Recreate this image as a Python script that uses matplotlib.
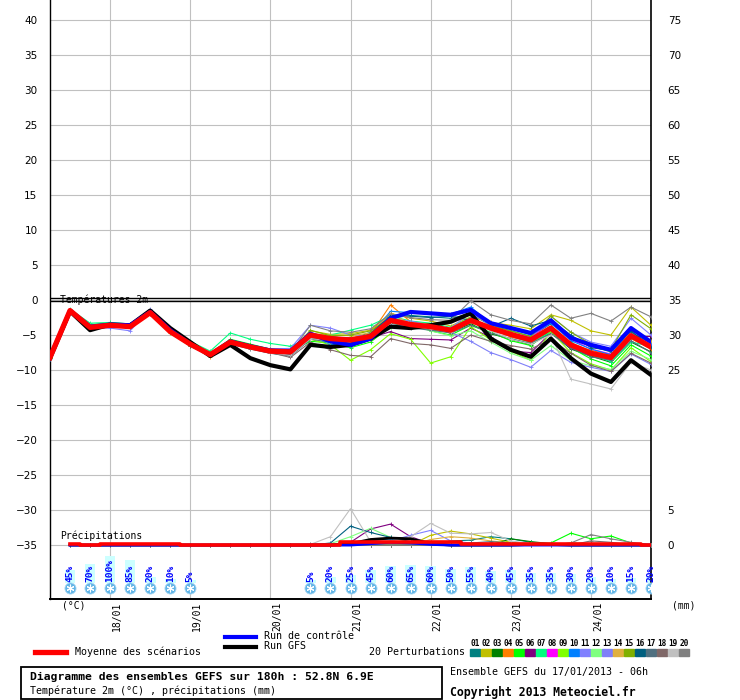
import matplotlib
matplotlib.use('Agg')
import matplotlib.pyplot as plt
from matplotlib.patches import Rectangle
from matplotlib.lines import Line2D
from matplotlib.transforms import ScaledTranslation

# forecast hours (run 17/01/2013 06h), 6h steps
hours = [0, 6, 12, 18, 24, 30, 36, 42, 48, 54, 60, 66, 72, 78, 84, 90,
         96, 102, 108, 114, 120, 126, 132, 138, 144, 150, 156, 162, 168, 174, 180]

day_hours = [18, 42, 66, 90, 114, 138, 162]
day_labels = ['18/01', '19/01', '20/01', '21/01', '22/01', '23/01', '24/01']

# temperature 2m (C)
t2m_mean = [-8.2, -1.5, -3.9, -3.6, -3.8, -1.8, -4.5, -6.3, -7.8, -6.0, -6.7, -7.3, -7.4, -5.0, -5.5, -5.7,
            -5.2, -2.9, -3.5, -3.8, -4.3, -2.9, -4.0, -4.9, -5.7, -4.0, -6.4, -7.6, -8.2, -5.1, -6.7]
t2m_ctrl = [-8.2, -1.5, -3.8, -3.5, -3.6, -1.7, -4.3, -6.3, -7.8, -5.9, -6.6, -7.2, -7.3, -4.8, -5.9, -6.4,
            -5.5, -2.6, -1.7, -1.9, -2.1, -1.4, -3.3, -4.0, -4.7, -2.9, -5.4, -6.4, -7.1, -4.0, -6.0]
t2m_gfs = [-8.3, -1.6, -4.3, -3.5, -3.6, -1.5, -4.0, -6.0, -8.0, -6.4, -8.3, -9.3, -9.9, -6.4, -6.7, -6.4,
           -5.5, -3.8, -4.0, -3.6, -3.1, -1.9, -5.5, -7.1, -8.1, -5.5, -8.3, -10.5, -11.7, -8.6, -10.7]

t2m_p01 = [-8.0, -1.4, -3.7, -3.4, -3.6, -1.7, -4.6, -6.4, -7.9, -6.2, -6.9, -7.6, -7.8, -5.3, -5.2, -5.6,
           -4.6, -2.6, -2.2, -2.4, -2.6, -2.0, -3.6, -4.4, -5.2, -3.4, -5.2, -6.6, -7.4, -4.6, -6.2]
t2m_p02 = [-8.3, -1.6, -3.8, -3.5, -3.5, -1.6, -4.3, -6.0, -7.6, -5.8, -6.5, -7.0, -7.1, -4.4, -4.9, -4.8,
           -4.3, -1.9, -2.6, -3.0, -3.7, -2.4, -3.2, -3.6, -4.1, -2.1, -2.9, -4.4, -5.0, -1.0, -3.6]
t2m_p03 = [-8.2, -1.5, -4.2, -3.3, -3.9, -1.9, -4.4, -6.5, -7.9, -6.2, -6.9, -7.5, -7.9, -5.2, -6.2, -6.0,
           -5.0, -3.3, -3.8, -4.2, -4.6, -3.4, -4.8, -5.6, -6.4, -4.6, -7.0, -8.0, -8.9, -6.0, -7.4]
t2m_p04 = [-8.1, -1.5, -3.6, -3.9, -3.9, -1.7, -4.2, -6.4, -8.1, -5.9, -6.8, -7.1, -7.2, -5.1, -5.8, -5.4,
           -4.9, -0.7, -3.1, -3.4, -4.8, -3.0, -3.8, -5.3, -5.9, -3.8, -6.2, -7.2, -7.8, -5.5, -7.0]
t2m_p05 = [-8.3, -1.4, -3.5, -3.3, -3.7, -1.6, -4.5, -6.2, -7.6, -5.6, -6.3, -7.0, -7.3, -5.9, -6.1, -6.8,
           -6.0, -3.8, -3.2, -4.4, -5.0, -3.6, -4.6, -5.8, -6.5, -4.3, -6.8, -8.4, -9.4, -6.4, -8.0]
t2m_p06 = [-8.2, -1.6, -4.1, -3.8, -3.9, -2.0, -4.6, -6.3, -7.6, -6.1, -6.8, -7.2, -7.4, -4.9, -5.3, -5.4,
           -5.4, -4.5, -5.5, -5.6, -5.7, -4.0, -5.3, -7.3, -7.5, -4.7, -6.9, -7.9, -8.5, -5.2, -5.2]
t2m_p07 = [-8.1, -1.3, -3.3, -3.2, -3.4, -1.6, -4.0, -5.9, -7.3, -4.7, -5.6, -6.2, -6.6, -5.3, -5.0, -4.3,
           -3.6, -2.3, -3.0, -3.3, -3.9, -2.5, -4.3, -5.1, -6.1, -4.6, -6.0, -7.8, -8.8, -6.0, -6.6]
t2m_p08 = [-8.2, -1.5, -3.9, -3.7, -3.8, -1.8, -4.5, -6.3, -7.7, -6.0, -6.6, -7.3, -7.5, -5.1, -5.6, -6.6,
           -5.5, -3.2, -3.5, -3.9, -4.4, -2.6, -4.1, -4.8, -5.3, -3.2, -5.6, -7.0, -7.7, -4.9, -6.3]
t2m_p09 = [-8.3, -1.6, -4.0, -3.4, -3.7, -1.8, -4.7, -6.6, -7.8, -5.9, -6.6, -7.2, -7.6, -5.6, -6.4, -8.6,
           -7.1, -4.8, -5.6, -9.0, -8.1, -3.8, -5.7, -7.3, -8.6, -4.5, -7.5, -9.1, -10.0, -6.8, -8.8]
t2m_p10 = [-8.2, -1.5, -3.8, -3.6, -3.7, -1.7, -4.4, -6.2, -7.8, -6.1, -6.7, -7.4, -7.6, -5.2, -6.3, -6.6,
           -5.0, -1.6, -1.8, -1.9, -2.0, -1.0, -3.3, -4.1, -5.0, -3.3, -5.8, -7.0, -7.8, -4.2, -6.1]
t2m_p11 = [-8.4, -1.7, -4.0, -4.0, -4.4, -1.3, -4.4, -6.2, -7.9, -5.8, -6.6, -7.0, -6.9, -3.6, -4.0, -5.0,
           -5.1, -2.7, -3.0, -3.6, -4.0, -1.8, -3.6, -4.8, -5.4, -2.3, -4.6, -6.0, -6.6, -2.6, -5.0]
t2m_p12 = [-8.1, -1.4, -3.6, -3.5, -3.6, -1.9, -4.6, -6.4, -7.7, -6.1, -6.8, -7.3, -7.5, -5.4, -6.1, -6.0,
           -5.3, -3.2, -3.6, -4.4, -5.1, -4.4, -6.0, -7.6, -8.6, -6.5, -8.6, -9.4, -9.9, -7.3, -8.5]
t2m_p13 = [-8.2, -1.5, -3.9, -3.7, -4.0, -1.8, -4.3, -6.1, -7.7, -6.3, -6.9, -7.6, -7.7, -5.0, -5.4, -5.6,
           -5.3, -3.6, -3.6, -4.0, -4.6, -5.9, -7.5, -8.5, -9.6, -7.2, -8.9, -9.6, -10.2, -7.7, -9.2]
t2m_p14 = [-8.2, -1.6, -3.7, -3.4, -3.5, -1.9, -4.3, -6.1, -8.0, -6.2, -6.9, -7.4, -7.3, -4.8, -5.0, -5.1,
           -4.7, -1.9, -3.4, -3.5, -4.2, -3.2, -4.2, -4.6, -5.6, -4.2, -6.6, -7.7, -8.4, -4.3, -5.9]
t2m_p15 = [-8.3, -1.4, -3.8, -3.5, -3.6, -1.8, -4.5, -6.2, -7.8, -6.0, -6.6, -7.4, -7.7, -4.3, -5.1, -5.0,
           -4.4, -2.5, -3.3, -3.6, -4.1, -2.8, -3.7, -4.4, -5.2, -2.3, -4.6, -6.3, -7.1, -2.1, -4.1]
t2m_p16 = [-8.2, -1.6, -3.9, -3.6, -3.8, -1.7, -4.5, -6.4, -7.9, -6.2, -6.9, -7.5, -7.8, -5.5, -5.8, -5.9,
           -4.8, -2.2, -2.3, -2.5, -2.3, -2.9, -3.8, -2.6, -3.7, -2.9, -5.0, -6.8, -7.2, -4.4, -6.7]
t2m_p17 = [-8.1, -1.5, -4.0, -3.7, -3.9, -1.9, -4.6, -6.5, -7.9, -6.3, -7.0, -7.6, -8.0, -5.6, -6.0, -6.1,
           -5.6, -3.6, -4.0, -4.3, -4.7, -3.6, -4.7, -5.5, -6.2, -4.8, -6.8, -8.1, -8.6, -5.8, -7.5]
t2m_p18 = [-8.2, -1.5, -3.9, -3.6, -3.8, -1.8, -4.5, -6.3, -7.9, -6.1, -6.9, -7.5, -8.2, -6.0, -7.1, -7.9,
           -8.1, -5.5, -6.2, -6.4, -6.9, -5.0, -5.9, -6.5, -7.0, -5.6, -7.6, -9.3, -10.2, -7.6, -9.0]
t2m_p19 = [-8.2, -1.5, -3.9, -3.6, -3.8, -1.8, -4.5, -6.3, -7.8, -6.1, -6.8, -7.5, -7.9, -5.5, -5.8, -6.0,
           -5.1, -3.1, -3.8, -4.1, -4.5, -2.9, -4.4, -5.6, -6.3, -5.0, -11.3, -12.0, -12.7, -8.9, -10.0]
t2m_p20 = [-8.2, -1.5, -3.9, -3.6, -3.8, -1.8, -4.5, -6.3, -7.8, -6.0, -6.7, -7.4, -7.5, -3.6, -4.4, -4.6,
           -4.1, -2.0, -2.5, -2.8, -2.9, -0.1, -2.1, -2.9, -3.4, -0.7, -2.6, -1.9, -3.0, -1.0, -2.4]

# precipitation per 6h (mm)
prec_mean = [0, 0.15, 0.0, 0.15, 0.15, 0.15, 0.15, 0.0, 0.0, 0.0, 0.0, 0.05, 0.05, 0.05, 0.05, 0.45,
             0.45, 0.45, 0.45, 0.45, 0.45, 0.2, 0.2, 0.2, 0.2, 0.2, 0.2, 0.2, 0.2, 0.2, 0.05]
prec_ctrl = [0, 0, 0, 0, 0, 0, 0, 0, 0, 0, 0, 0, 0, 0, 0, 0,
             0.2, 0.4, 0.3, 0.1, 0, 0, 0, 0, 0, 0, 0, 0, 0, 0, 0]
prec_gfs = [0, 0, 0, 0, 0, 0, 0, 0, 0, 0, 0, 0, 0, 0, 0, 0.2,
            0.8, 1.0, 0.9, 0.2, 0, 0, 0, 0, 0.1, 0.1, 0, 0, 0, 0, 0]

prec_p01 = [0, 0, 0, 0, 0, 0, 0, 0, 0, 0, 0, 0, 0, 0, 0, 0, 0, 0, 0, 0, 0.6, 0.7, 1.2, 0.9, 0.4, 0.2, 0, 0, 0, 0, 0]
prec_p02 = [0, 0, 0, 0, 0, 0, 0, 0, 0, 0, 0, 0, 0, 0, 0, 0, 0, 0, 0, 1.4, 2.0, 1.6, 1.0, 0.4, 0.2, 0, 0, 0, 0, 0, 0]
prec_p03 = [0, 0, 0, 0, 0, 0, 0, 0, 0, 0, 0, 0, 0, 0, 0, 0, 0.4, 0.5, 0, 0, 0, 0, 0, 0.9, 0.5, 0.2, 0, 0, 0, 0, 0]
prec_p04 = [0, 0, 0, 0, 0, 0, 0, 0, 0, 0, 0, 0, 0, 0, 0, 0.3, 0.2, 0, 0, 0, 0, 0, 0, 0, 0, 0, 0, 0, 0, 0, 0]
prec_p05 = [0, 0, 0, 0, 0, 0, 0, 0, 0, 0, 0, 0, 0, 0, 0, 0, 0, 0, 0, 0, 0, 0, 0, 0, 0, 0.3, 1.7, 0.9, 1.3, 0.3, 0]
prec_p06 = [0, 0, 0, 0, 0, 0, 0, 0, 0, 0, 0, 0, 0, 0, 0, 0.4, 2.3, 3.0, 1.2, 0.2, 0, 0, 0, 0, 0, 0, 0, 0, 0, 0, 0]
prec_p07 = [0, 0, 0, 0, 0, 0, 0, 0, 0, 0, 0, 0, 0, 0, 0, 0, 0, 0, 0, 0, 0, 0, 0, 0, 0.3, 0.2, 0, 0, 0, 0, 0]
prec_p08 = [0, 0, 0, 0, 0, 0, 0, 0, 0, 0, 0, 0, 0, 0, 0, 0.4, 0.5, 0.3, 0, 0, 0, 0, 0, 0, 0, 0, 0, 0, 0, 0, 0]
prec_p09 = [0, 0, 0, 0, 0, 0, 0, 0, 0, 0, 0, 0, 0, 0, 0.2, 0.3, 0, 0, 0, 0, 0, 0, 0, 0, 0, 0, 0, 0, 0, 0, 0]
prec_p10 = [0, 0, 0, 0, 0, 0, 0, 0, 0, 0, 0, 0, 0, 0, 0, 0, 0.6, 0.9, 0.8, 0.5, 0, 0, 0, 0, 0, 0, 0, 0, 0, 0, 0]
prec_p11 = [0, 0, 0, 0, 0, 0, 0, 0, 0, 0, 0, 0, 0, 0, 0, 0, 0, 0.6, 1.4, 2.1, 0.6, 0.3, 0, 0, 0, 0, 0, 0, 0, 0, 0]
prec_p12 = [0, 0, 0, 0, 0, 0, 0, 0, 0, 0, 0, 0, 0, 0, 0.2, 1.2, 2.4, 1.1, 0.4, 0, 0, 0, 0, 0, 0, 0, 0, 0, 0, 0, 0]
prec_p13 = [0, 0, 0, 0, 0, 0, 0, 0, 0, 0, 0, 0, 0, 0, 0, 0, 0, 0, 0.5, 0.4, 0, 0, 0, 0, 0, 0, 0, 0, 0, 0, 0]
prec_p14 = [0, 0, 0, 0, 0, 0, 0, 0, 0, 0, 0, 0, 0, 0, 0, 0, 0, 0, 0, 0.8, 1.2, 1.0, 0.6, 0.3, 0, 0, 0, 0, 0, 0, 0]
prec_p15 = [0, 0, 0, 0, 0, 0, 0, 0, 0, 0, 0, 0, 0, 0, 0, 0, 0, 0, 0, 0, 0, 0, 0, 0, 0, 0, 0.3, 0.2, 0, 0, 0]
prec_p16 = [0, 0, 0, 0, 0, 0, 0, 0, 0, 0, 0, 0, 0, 0, 0.3, 2.7, 1.8, 1.1, 0.5, 0.2, 0, 0, 0, 0, 0, 0, 0, 0, 0, 0, 0]
prec_p17 = [0, 0, 0, 0, 0, 0, 0, 0, 0, 0, 0, 0, 0, 0, 0, 0, 0, 0, 0, 0, 0, 0.3, 0.5, 0.3, 0, 0, 0, 0, 0, 0, 0]
prec_p18 = [0, 0, 0, 0, 0, 0, 0, 0, 0, 0, 0, 0, 0, 0, 0, 0, 0, 0, 0, 0, 0, 0, 0, 0, 0, 0, 0, 0.6, 0.4, 0, 0]
prec_p19 = [0, 0, 0, 0, 0, 0, 0, 0, 0, 0, 0, 0, 0, 0.1, 1.2, 5.2, 0.5, 0.6, 1.2, 3.1, 1.7, 1.6, 1.8, 0.6, 0.2, 0, 0, 0, 0, 0, 0]
prec_p20 = [0, 0, 0, 0, 0, 0, 0, 0, 0, 0, 0, 0, 0, 0.1, 0.2, 0, 0, 0, 0, 0, 0, 0, 0, 0, 0, 0, 0.3, 1.5, 0.9, 0.4, 0]

# snow probability (%)
snow_hours = [6, 12, 18, 24, 30, 36, 42,
              78, 84, 90, 96, 102, 108, 114, 120, 126, 132, 138, 144, 150, 156, 162, 168, 174, 180]
snow_pct = [45, 70, 100, 85, 20, 10, 5,
            5, 20, 25, 45, 60, 65, 60, 50, 55, 40, 45, 35, 35, 30, 20, 10, 15, 20]

pert_colors = ['#008080', '#c0c000', '#008000', '#ff8000', '#00ff00', '#800080', '#00ff80',
               '#ff00ff', '#80ff00', '#0080ff', '#8080ff', '#80ff80', '#8080f8', '#e0b040',
               '#80b000', '#006080', '#507080', '#806868', '#c0c0c0', '#808080']

t2m_pert = [t2m_p01, t2m_p02, t2m_p03, t2m_p04, t2m_p05, t2m_p06, t2m_p07, t2m_p08, t2m_p09, t2m_p10,
            t2m_p11, t2m_p12, t2m_p13, t2m_p14, t2m_p15, t2m_p16, t2m_p17, t2m_p18, t2m_p19, t2m_p20]
prec_pert = [prec_p01, prec_p02, prec_p03, prec_p04, prec_p05, prec_p06, prec_p07, prec_p08, prec_p09, prec_p10,
             prec_p11, prec_p12, prec_p13, prec_p14, prec_p15, prec_p16, prec_p17, prec_p18, prec_p19, prec_p20]

PREC_BASE = -35    # precipitation 0 mm sits on -35 of the temperature scale
MONO = 'DejaVu Sans Mono'
W, H = 740, 700


def fpos(x, y):
    """pixel position (from top left) -> figure fraction"""
    return x / W, 1 - y / H


def prec_y(vals):
    return [PREC_BASE + v for v in vals]


fig = plt.figure(figsize=(W / 100, H / 100), dpi=100)
ax = fig.add_axes([50 / W, 101 / H, 601 / W, 599 / H])
ax.set_xlim(0, 180)
ax.set_ylim(-42.7, 42.86)

ax.set_axisbelow(True)
ax.set_yticks(range(-35, 41, 5))
ax.set_xticks(day_hours)
ax.set_xticklabels(day_labels, rotation=90, family=MONO, fontsize=7)
ax.grid(color='#c0c0c0', lw=0.8)
ax.tick_params(axis='y', length=0, pad=9, labelsize=7.5)
ax.tick_params(axis='x', length=0, pad=2)
for lab in ax.get_xticklabels():
    lab.set_transform(lab.get_transform() + ScaledTranslation(7 / 100, 0, fig.dpi_scale_trans))
ax.spines['left'].set_linewidth(1.0)
ax.spines['right'].set_linewidth(1.2)
ax.spines['bottom'].set_linewidth(1.4)
ax.spines['top'].set_visible(False)

ax2 = ax.twinx()
ax2.set_ylim(ax.get_ylim())
rticks = [-35, -30] + list(range(-10, 41, 5))
ax2.set_yticks(rticks)
ax2.set_yticklabels([str(v - PREC_BASE) for v in rticks])
ax2.tick_params(axis='y', length=0, pad=12, labelsize=7.5)
for s in ['left', 'bottom', 'top', 'right']:
    ax2.spines[s].set_visible(False)

# separator between temperature and precipitation blocks
ax.axhline(0.25, color='black', lw=1.0, zorder=3)
ax.axhline(-0.12, color='black', lw=1.0, zorder=3)

# temperature
for c, vals in zip(pert_colors, t2m_pert):
    ax.plot(hours, vals, color=c, lw=0.8, marker='+', ms=3, mew=0.6, zorder=4)
ax.plot(hours, t2m_gfs, color='black', lw=3.0, zorder=5)
ax.plot(hours, t2m_ctrl, color='#0000ff', lw=3.0, zorder=6)
ax.plot(hours, t2m_mean, color='#ff0000', lw=3.8, zorder=7)

# precipitation
for c, vals in zip(pert_colors, prec_pert):
    ax.plot(hours[1:], prec_y(vals[1:]), color=c, lw=0.8, marker='+', ms=3, mew=0.6, zorder=4)
ax.plot(hours[1:], prec_y(prec_gfs[1:]), color='black', lw=2.0, zorder=5)
ax.plot(hours[1:], prec_y(prec_ctrl[1:]), color='#0000ff', lw=2.0, zorder=6)
ax.plot(hours[1:], prec_y(prec_mean[1:]), color='#ff0000', lw=2.6, drawstyle='steps-mid', zorder=7)

ax.text(3, 0, 'Températures 2m', family=MONO, fontsize=7, va='center', zorder=8)
ax.text(3, -33.6, 'Précipitations', family=MONO, fontsize=7, va='center', zorder=8)

# snow probability row
ax.bar(snow_hours, [3.71 * p / 100 + 0.2 for p in snow_pct], width=3.2, bottom=-40.43,
       color='#ccffff', zorder=2)
for h, p in zip(snow_hours, snow_pct):
    ax.text(h, -40.3, '%d%%' % p, rotation=90, ha='center', va='bottom', color='#0000ff',
            family=MONO, fontsize=6.8, weight='bold', zorder=8)
ax.plot(snow_hours, [-41.15] * len(snow_hours), 'o', ms=8, color='#60b4e6', mec='#a8d8f4',
        mew=0.6, zorder=8)
ax.plot(snow_hours, [-41.15] * len(snow_hours), marker=(6, 2, 0), ls='none', ms=5.5,
        color='white', mew=0.8, zorder=9)

# labels below the chart
fig.text(*fpos(62, 606), '(°C)', family=MONO, fontsize=7, va='center')
fig.text(*fpos(672, 606), '(mm)', family=MONO, fontsize=7, va='center')

fig.add_artist(Line2D([35 / W, 66 / W], [1 - 652 / H] * 2, color='#ff0000', lw=3.8))
fig.text(*fpos(75, 652), 'Moyenne des scénarios', family=MONO, fontsize=7.2, va='center')
fig.add_artist(Line2D([225 / W, 256 / W], [1 - 637 / H] * 2, color='#0000ff', lw=3.0))
fig.text(*fpos(264, 636), 'Run de contrôle', family=MONO, fontsize=7.2, va='center')
fig.add_artist(Line2D([225 / W, 256 / W], [1 - 647 / H] * 2, color='black', lw=3.0))
fig.text(*fpos(264, 646), 'Run GFS', family=MONO, fontsize=7.2, va='center')
fig.text(*fpos(369, 652), '20 Perturbations', family=MONO, fontsize=7.2, va='center')

for k, c in enumerate(pert_colors):
    x0 = 470 + 11 * k
    fig.add_artist(Rectangle(fpos(x0, 656), 10 / W, 7 / H, color=c, transform=fig.transFigure))
    fig.text(*fpos(x0 + 5, 643), '%02d' % (k + 1), family=MONO, fontsize=5.6, weight='bold',
             ha='center', va='center')

fig.add_artist(Rectangle(fpos(21, 699), 421 / W, 32 / H, fill=False, ec='black', lw=1.3,
                         transform=fig.transFigure))
fig.text(*fpos(30, 677), 'Diagramme des ensembles GEFS sur 180h : 52.8N 6.9E', family=MONO,
         fontsize=8.2, weight='bold', va='center')
fig.text(*fpos(30, 691), 'Température 2m (°C) , précipitations (mm)', family=MONO,
         fontsize=7.2, va='center')
fig.text(*fpos(450, 672), 'Ensemble GEFS du 17/01/2013 - 06h', family=MONO, fontsize=7.2,
         va='center')
fig.text(*fpos(450, 692), 'Copyright 2013 Meteociel.fr', family=MONO, fontsize=8.3,
         weight='bold', va='center')

fig.savefig('out.png', dpi=100)
